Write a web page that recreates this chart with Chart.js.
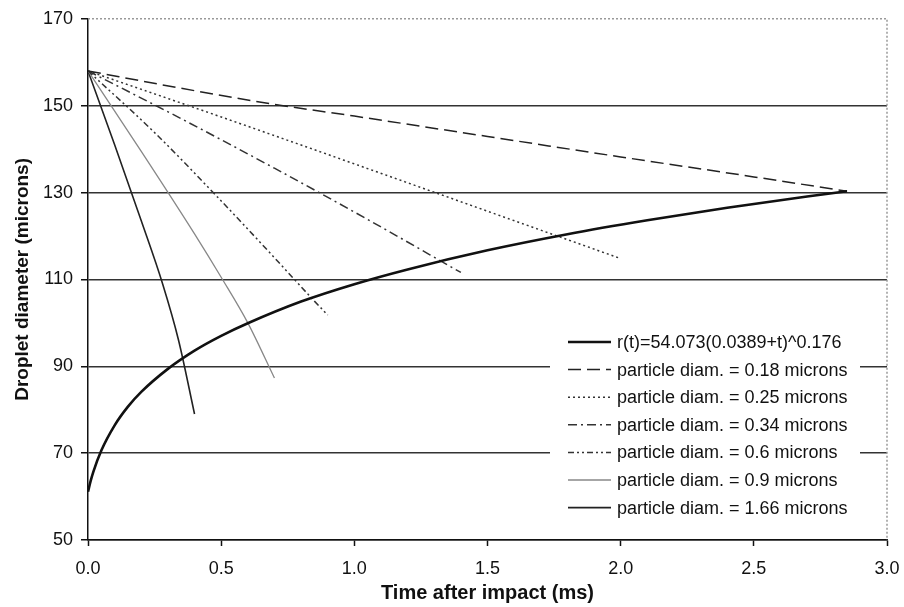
<!DOCTYPE html>
<html>
<head>
<meta charset="utf-8">
<script src="https://cdn.jsdelivr.net/npm/chart.js@4/dist/chart.umd.min.js"></script>
<style>
  html, body { margin: 0; padding: 0; background: #fff; }
  canvas { display: block; }
</style>
</head>
<body>
<canvas id="chart" width="904" height="607"></canvas>
<script>
/* ================= DATA ================= */

const xTicks = [0, 0.5, 1.0, 1.5, 2.0, 2.5, 3.0];
const yTicks = [50, 70, 90, 110, 130, 150, 170];

const seriesLabels = [
  "r(t)=54.073(0.0389+t)^0.176",
  "particle diam. = 0.18 microns",
  "particle diam. = 0.25 microns",
  "particle diam. = 0.34 microns",
  "particle diam. = 0.6 microns",
  "particle diam. = 0.9 microns",
  "particle diam. = 1.66 microns"
];

// fitted droplet curve (time in ms, diameter in microns)
const fitTime = [0, 0.01, 0.02, 0.05, 0.1, 0.15, 0.2, 0.3, 0.4, 0.5, 0.6, 0.8, 1.0, 1.2, 1.5, 1.8, 2.1, 2.4, 2.7, 2.85];
const fitDiam = [61.1, 63.6, 65.7, 70.6, 76.4, 80.7, 84.1, 89.4, 93.6, 97.0, 99.9, 104.9, 108.9, 112.3, 116.7, 120.4, 123.6, 126.5, 129.1, 130.3];

const p018Time = [0, 0.35, 0.7, 1.0, 1.5, 2.0, 2.5, 2.85];
const p018Diam = [158, 154.0, 150.3, 147.6, 142.9, 138.2, 133.6, 130.3];

const p025Time = [0, 0.5, 1.0, 1.5, 2.0];
const p025Diam = [158, 147.4, 136.6, 125.7, 114.8];

const p034Time = [0, 0.35, 0.7, 1.05, 1.4];
const p034Diam = [158, 147.0, 135.6, 123.8, 111.6];

const p06Time = [0, 0.25, 0.47, 0.7, 0.85, 0.9];
const p06Diam = [158, 143.8, 130, 115, 105, 101.8];

const p09Time = [0, 0.2, 0.4, 0.5, 0.6, 0.7];
const p09Diam = [158, 139.5, 120.5, 110.5, 100, 87.3];

const p166Time = [0, 0.1, 0.2, 0.28, 0.34, 0.4];
const p166Diam = [158, 141, 123.5, 109, 96, 79];

/* ================= DATASETS ================= */

const pts = (xs, ys) => xs.map((x, i) => ({ x: x, y: ys[i] }));

const styles = [
  { color: "#111", width: 2.6, dash: [] },
  { color: "#222", width: 1.5, dash: [13, 6] },
  { color: "#333", width: 1.5, dash: [2, 3] },
  { color: "#333", width: 1.5, dash: [9, 4, 2, 4] },
  { color: "#333", width: 1.5, dash: [6, 3, 2, 3, 2, 3] },
  { color: "#888", width: 1.3, dash: [] },
  { color: "#222", width: 1.6, dash: [] }
];

const seriesPoints = [
  pts(fitTime, fitDiam),
  pts(p018Time, p018Diam),
  pts(p025Time, p025Diam),
  pts(p034Time, p034Diam),
  pts(p06Time, p06Diam),
  pts(p09Time, p09Diam),
  pts(p166Time, p166Diam)
];

const datasets = seriesPoints.map((d, i) => ({
  label: seriesLabels[i],
  data: d,
  showLine: true,
  borderColor: styles[i].color,
  borderWidth: styles[i].width,
  borderDash: styles[i].dash,
  pointRadius: 0,
  cubicInterpolationMode: "monotone",
  fill: false
}));

/* ================= PLUGINS ================= */

// dotted frame on top and right, like the spreadsheet plot area
const frame = {
  id: "frame",
  beforeDatasetsDraw(chart) {
    const { ctx, chartArea: a } = chart;
    ctx.save();
    ctx.strokeStyle = "#999";
    ctx.lineWidth = 1.5;
    ctx.setLineDash([2, 2]);
    ctx.beginPath();
    ctx.moveTo(a.left, a.top);
    ctx.lineTo(a.right, a.top);
    ctx.lineTo(a.right, a.bottom);
    ctx.stroke();
    ctx.restore();
  }
};

// legend box inside the plot
const boxLegend = {
  id: "boxLegend",
  afterDatasetsDraw(chart) {
    const ctx = chart.ctx;
    ctx.save();
    ctx.fillStyle = "#fff";
    ctx.fillRect(550, 328, 310, 196);
    ctx.font = "18px 'Liberation Sans', Arial, sans-serif";
    ctx.textBaseline = "middle";
    chart.data.datasets.forEach((ds, i) => {
      const y = 342 + i * 27.6;
      ctx.strokeStyle = ds.borderColor;
      ctx.lineWidth = ds.borderWidth;
      ctx.setLineDash(ds.borderDash);
      ctx.beginPath();
      ctx.moveTo(568, y);
      ctx.lineTo(611, y);
      ctx.stroke();
      ctx.setLineDash([]);
      ctx.fillStyle = "#111";
      ctx.fillText(ds.label, 617, y + 1);
    });
    ctx.restore();
  }
};

/* ================= CHART ================= */

const tickFont = { family: "'Liberation Sans', Arial, sans-serif", size: 18 };

new Chart(document.getElementById("chart"), {
  type: "scatter",
  data: { datasets: datasets },
  plugins: [frame, boxLegend],
  options: {
    responsive: false,
    animation: false,
    devicePixelRatio: 1,
    layout: { padding: { top: 16, right: 17, left: 0, bottom: 0 } },
    plugins: {
      legend: { display: false },
      tooltip: { enabled: false }
    },
    scales: {
      x: {
        type: "linear",
        min: 0,
        max: 3,
        afterBuildTicks: s => { s.ticks = xTicks.map(v => ({ value: v })); },
        afterFit: s => {
          s.height = 67;
          s.paddingLeft = 0;
          s.paddingRight = 0;
        },
        ticks: {
          font: tickFont,
          color: "#111",
          padding: 12,
          maxRotation: 0,
          callback: v => v.toFixed(1)
        },
        grid: {
          drawOnChartArea: false,
          drawTicks: true,
          tickLength: 6,
          tickColor: "#111",
          tickWidth: 1.5
        },
        border: { color: "#111", width: 1.5 },
        title: {
          display: true,
          text: "Time after impact (ms)",
          color: "#111",
          font: { family: "'Liberation Sans', Arial, sans-serif", size: 20, weight: "bold" },
          padding: { top: 0, bottom: 2 }
        }
      },
      y: {
        type: "linear",
        min: 50,
        max: 170,
        afterBuildTicks: s => { s.ticks = yTicks.map(v => ({ value: v })); },
        afterFit: s => { s.width = 88; },
        ticks: {
          font: tickFont,
          color: "#111",
          padding: 8
        },
        grid: {
          color: c => (c.tick && c.tick.value === 170 ? "rgba(0,0,0,0)" : "#333"),
          lineWidth: 1.5,
          tickLength: 7,
          tickColor: "#111",
          tickWidth: 1.5
        },
        border: { color: "#111", width: 1.5 },
        title: {
          display: true,
          text: "Droplet diameter (microns)",
          color: "#111",
          font: { family: "'Liberation Sans', Arial, sans-serif", size: 19, weight: "bold" },
          padding: { top: 11, bottom: 0 }
        }
      }
    }
  }
});
</script>
</body>
</html>
